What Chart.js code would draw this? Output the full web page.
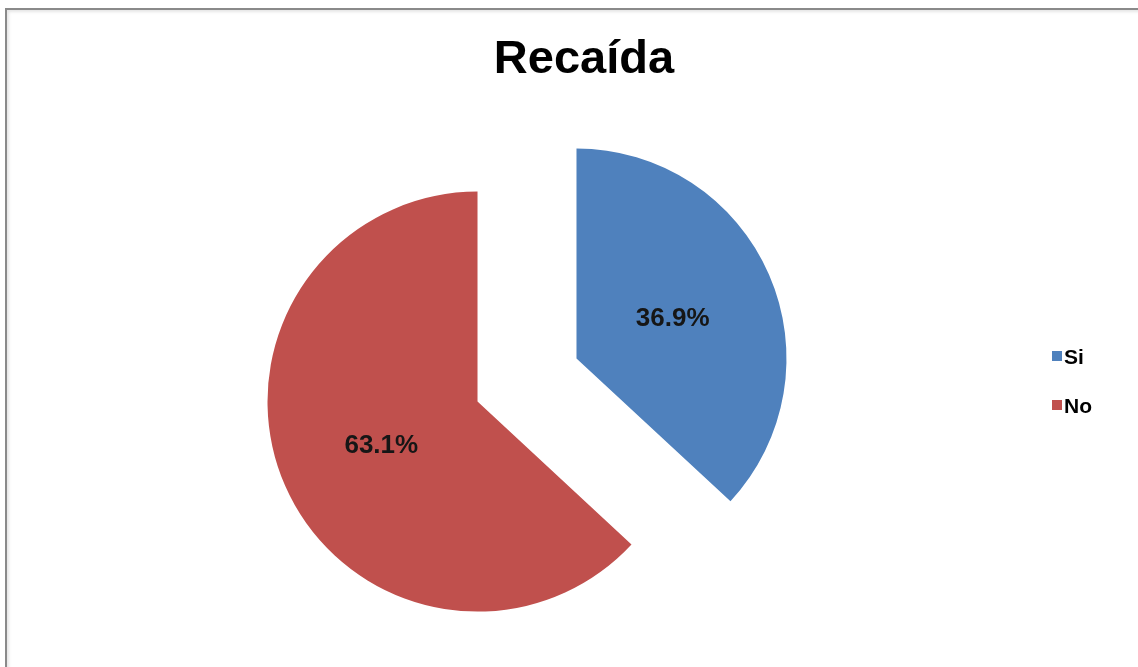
<!DOCTYPE html>
<html>
<head>
<meta charset="utf-8">
<title>Recaída</title>
<script src="https://cdn.jsdelivr.net/npm/chart.js@4.4.1/dist/chart.umd.min.js"></script>
<style>
  html, body { margin: 0; padding: 0; background: #fff; overflow: hidden; }
  #frame {
    position: absolute; left: 5px; top: 8px; width: 1300px; height: 800px;
    border-left: 2px solid #8a8a8a; border-top: 2px solid #8a8a8a;
    box-shadow: inset 2px 2px 3px #e6e6e6;
  }
  #chart { position: absolute; left: 0; top: 0; }
</style>
</head>
<body>
<div id="frame"></div>
<canvas id="chart" width="1138" height="667"></canvas>
<script>
// Chart data
const chartTitle = "Recaída";
const categories = ["Si", "No"];
const percentages = [36.9, 63.1];

const FONT = "'Liberation Sans', Arial, sans-serif";
const EXPLODE = 54; // distance each slice is pulled away from the centre

// Pull every slice out along its middle angle
const explodePlugin = {
  id: "explode",
  beforeDatasetDraw(chart, args) {
    const ctx = chart.ctx;
    args.meta.data.forEach((arc) => {
      const mid = (arc.startAngle + arc.endAngle) / 2;
      ctx.save();
      ctx.translate(Math.cos(mid) * EXPLODE, Math.sin(mid) * EXPLODE);
      arc.draw(ctx, chart.chartArea);
      ctx.restore();
    });
    return false;
  },
};

// Percentage labels inside the slices, title and legend
const textPlugin = {
  id: "texts",
  afterDatasetsDraw(chart) {
    const ctx = chart.ctx;
    const meta = chart.getDatasetMeta(0);
    const ds = chart.data.datasets[0];

    ctx.save();
    ctx.font = "bold 26px " + FONT;
    ctx.fillStyle = "#161616";
    ctx.textAlign = "center";
    ctx.textBaseline = "alphabetic";
    meta.data.forEach((arc, i) => {
      const mid = (arc.startAngle + arc.endAngle) / 2;
      const d = EXPLODE + arc.outerRadius * 0.5;
      const x = arc.x + Math.cos(mid) * d;
      const y = arc.y + Math.sin(mid) * d;
      ctx.fillText(`${ds.data[i].toFixed(1)}%`, x, y + 26 * 0.36);
    });

    // title
    ctx.font = "bold 47px " + FONT;
    ctx.fillStyle = "#000";
    ctx.fillText(chartTitle, 584, 73);

    // legend
    ctx.font = "bold 21px " + FONT;
    ctx.textAlign = "left";
    chart.data.labels.forEach((label, i) => {
      const cy = 356 + i * 49;
      ctx.fillStyle = ds.backgroundColor[i];
      ctx.fillRect(1052, cy - 5, 10, 10);
      ctx.fillStyle = "#000";
      ctx.fillText(label, 1064, cy + 21 * 0.36);
    });
    ctx.restore();
  },
};

const ctx = document.getElementById("chart").getContext("2d");

new Chart(ctx, {
  type: "pie",
  data: {
    labels: categories,
    datasets: [
      {
        data: percentages,
        backgroundColor: ["#4f81bd", "#c0504d"],
        borderWidth: 0,
        radius: 210,
      },
    ],
  },
  options: {
    responsive: false,
    animation: false,
    layout: {
      padding: { left: 247, right: 331, top: 100, bottom: 7 },
    },
    plugins: {
      legend: { display: false },
      title: { display: false },
      tooltip: { enabled: false },
    },
  },
  plugins: [explodePlugin, textPlugin],
});
</script>
</body>
</html>
